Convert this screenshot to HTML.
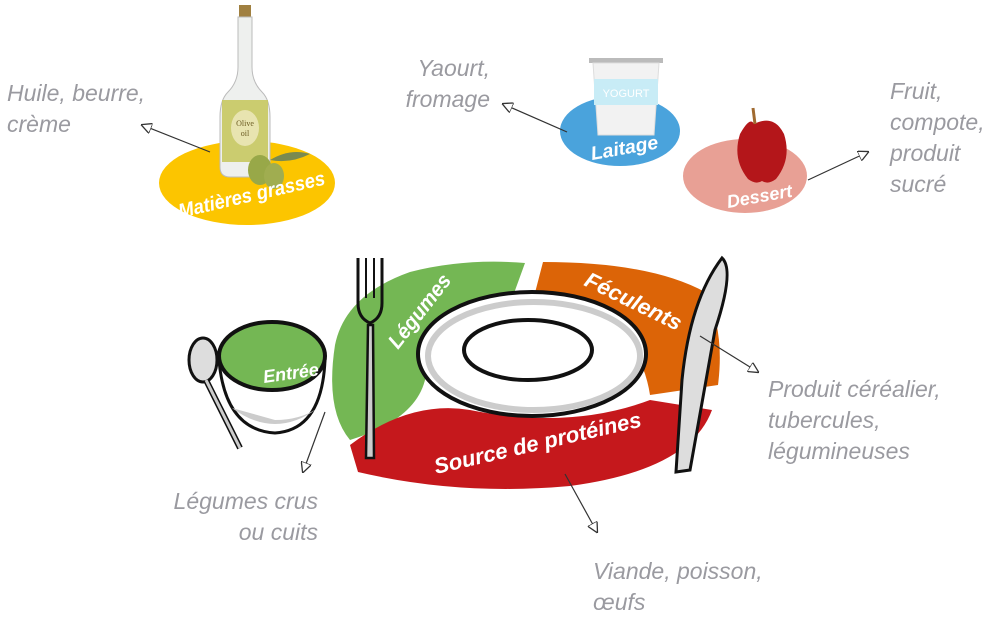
<!DOCTYPE html>
<html><head><meta charset="utf-8"><style>
html,body{margin:0;padding:0;background:#fff;}
svg{display:block}
.g{font-family:"Liberation Sans",sans-serif;font-style:italic;fill:#9a9aa0;font-size:23px}
.w{font-family:"Liberation Sans Narrow","Liberation Sans",sans-serif;font-weight:bold;fill:#fff;font-style:italic}
</style></head><body>
<svg width="1000" height="618" viewBox="0 0 1000 618" xmlns="http://www.w3.org/2000/svg">
<defs><marker id="a" viewBox="0 0 10 10" refX="9" refY="5" markerWidth="9" markerHeight="9" orient="auto"><path d="M0,0 L10,5 L0,10 Z" fill="#fff" stroke="#333" stroke-width="1.2"/></marker></defs>
<text class="g" x="7" y="101">Huile, beurre,</text>
<text class="g" x="7" y="132">crème</text>
<text class="g" x="490" y="76" text-anchor="end">Yaourt,</text>
<text class="g" x="490" y="107" text-anchor="end">fromage</text>
<text class="g" x="890" y="99">Fruit,</text>
<text class="g" x="890" y="130">compote,</text>
<text class="g" x="890" y="161">produit</text>
<text class="g" x="890" y="192">sucré</text>
<text class="g" x="768" y="397">Produit céréalier,</text>
<text class="g" x="768" y="428">tubercules,</text>
<text class="g" x="768" y="459">légumineuses</text>
<text class="g" x="318" y="509" text-anchor="end">Légumes crus</text>
<text class="g" x="318" y="540" text-anchor="end">ou cuits</text>
<text class="g" x="593" y="579">Viande, poisson,</text>
<text class="g" x="593" y="610">œufs</text>
<ellipse cx="247" cy="183" rx="88" ry="42" fill="#fcc500"/>
<ellipse cx="620" cy="131" rx="60" ry="35" fill="#4aa3dc"/>
<ellipse cx="745" cy="176" rx="62" ry="37" fill="#e8a095"/>
<rect x="239" y="5" width="12" height="12" fill="#a08040"/>
<path d="M238,17 h14 v50 q0,15 10,25 q8,8 8,25 v50 q0,10 -10,10 h-30 q-10,0 -10,-10 v-50 q0,-17 8,-25 q10,-10 10,-25z" fill="#eef0ee" stroke="#bbb"/>
<rect x="222" y="100" width="46" height="62" fill="#c7c860" opacity=".9"/>
<ellipse cx="245" cy="128" rx="14" ry="18" fill="#e8e4b0"/>
<text x="245" y="126" font-size="8" text-anchor="middle" fill="#6a5a20" font-family="Liberation Serif">Olive</text>
<text x="245" y="136" font-size="8" text-anchor="middle" fill="#6a5a20" font-family="Liberation Serif">oil</text>
<ellipse cx="260" cy="170" rx="12" ry="15" fill="#98a848"/>
<ellipse cx="274" cy="176" rx="10" ry="13" fill="#a0ad50"/>
<path d="M270,160 q20,-12 40,-6 q-20,10 -40,6z" fill="#7a8a50"/>
<rect x="589" y="58" width="74" height="5" fill="#bbb"/>
<path d="M593,63 h66 l-5,72 h-56z" fill="#f2f2f2" stroke="#ddd"/>
<rect x="594" y="79" width="64" height="26" fill="#c8ecf6"/>
<text x="626" y="97" font-size="11" text-anchor="middle" fill="#fff" font-family="Liberation Sans">YOGURT</text>
<path d="M754,124 q20,-10 30,10 q8,25 -8,45 q-8,6 -14,2 q-6,4 -14,-2 q-16,-20 -8,-45 q10,-18 14,-10z" fill="#b4161a"/>
<path d="M755,124 l-2,-16" stroke="#a06a30" stroke-width="3"/>
<text class="w" font-size="20" textLength="150" lengthAdjust="spacingAndGlyphs" transform="translate(180,218) rotate(-13)">Matières grasses</text>
<text class="w" font-size="19" textLength="68" lengthAdjust="spacingAndGlyphs" transform="translate(592,160) rotate(-10)">Laitage</text>
<text class="w" font-size="18" textLength="66" lengthAdjust="spacingAndGlyphs" transform="translate(728,208) rotate(-10)">Dessert</text>
<path d="M525,263 L505,318 Q440,330 425,380 Q415,420 350,440 Q325,410 335,345 Q345,295 410,272 Q465,258 525,263z" fill="#74b754"/>
<path d="M543,262 Q650,262 705,292 Q725,330 718,385 L650,395 Q640,330 580,315 L530,312z" fill="#dc6407"/>
<path d="M350,445 Q410,400 470,410 Q570,430 650,400 L712,410 Q690,470 570,486 Q460,496 358,472z" fill="#c5181c"/>
<ellipse cx="532" cy="354" rx="114" ry="62" fill="#fff" stroke="#111" stroke-width="4"/>
<ellipse cx="534" cy="356" rx="106" ry="54" fill="none" stroke="#ccc" stroke-width="6"/>
<ellipse cx="528" cy="350" rx="64" ry="30" fill="#fff" stroke="#111" stroke-width="4"/>
<text class="w" font-size="21" textLength="88" lengthAdjust="spacingAndGlyphs" transform="translate(398,350) rotate(-52)">Légumes</text>
<text class="w" font-size="22" textLength="105" lengthAdjust="spacingAndGlyphs" transform="translate(583,285) rotate(26)">Féculents</text>
<text class="w" font-size="22" textLength="212" lengthAdjust="spacingAndGlyphs" transform="translate(436,474) rotate(-13)">Source de protéines</text>
<path d="M219,360 Q225,430 275,433 Q322,430 325,360z" fill="#fff" stroke="#111" stroke-width="3"/>
<path d="M232,408 Q275,440 318,408 Q300,420 275,420z" fill="#ccc"/>
<ellipse cx="272" cy="356" rx="53" ry="34" fill="#74b754" stroke="#111" stroke-width="4"/>
<text class="w" font-size="18" textLength="56" lengthAdjust="spacingAndGlyphs" transform="translate(264,383) rotate(-8)">Entrée</text>
<ellipse cx="203" cy="360" rx="14" ry="22" fill="#ddd" stroke="#111" stroke-width="3"/>
<path d="M206,380 L240,448" stroke="#111" stroke-width="6"/><path d="M206,380 L240,448" stroke="#ccc" stroke-width="3"/>
<path d="M358,258 v45 q0,15 12,20 q12,-5 12,-20 v-45" fill="none" stroke="#111" stroke-width="3"/>
<path d="M366,258 v40 M374,258 v40" stroke="#111" stroke-width="2"/>
<path d="M368,325 L366,458 h8 L373,325z" fill="#ccc" stroke="#111" stroke-width="2.5"/>
<path d="M722,258 Q735,270 715,330 L690,470 L676,472 L682,380 Q690,300 722,258z" fill="#ddd" stroke="#111" stroke-width="3"/>
<g stroke="#333" stroke-width="1.2" fill="none" marker-end="url(#a)">
<path d="M210,152 L142,125"/>
<path d="M567,132 L503,104"/>
<path d="M808,180 L868,152"/>
<path d="M700,336 L758,372"/>
<path d="M325,412 L303,472"/>
<path d="M565,474 L597,532"/>
</g>
</svg>
</body></html>
